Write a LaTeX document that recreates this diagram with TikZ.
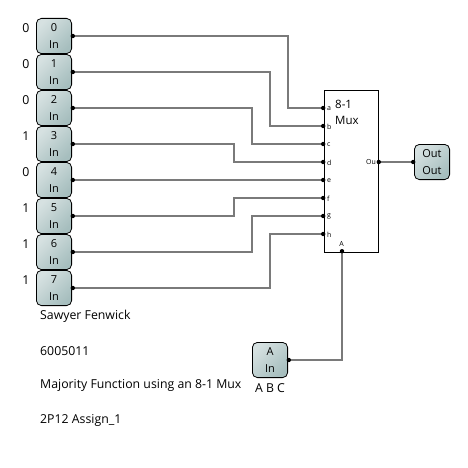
\documentclass[tikz,border=0pt]{standalone}
\usepackage{fontspec}
\setmainfont{Open Sans}
\begin{document}
\begin{tikzpicture}[x=1pt,y=-1pt,
  pin/.style={draw=black,line width=0.8pt,rounded corners=5pt,minimum width=35.2pt,minimum height=35.2pt,inner sep=0pt,align=center,
    left color=pinA,right color=pinB,shading angle=45,font=\fontsize{11}{17}\selectfont},
  wire/.style={draw=wirecol,line width=1.2pt},
  dot/.style={circle,fill=black,inner sep=0pt,minimum size=4.4pt},
  lbl/.style={inner sep=0pt,font=\fontsize{12.3}{14}\selectfont,anchor=west},
  plbl/.style={inner sep=0pt,font=\fontsize{7}{8}\selectfont}]
\definecolor{pinA}{HTML}{D6E1E1}
\definecolor{pinB}{HTML}{A6BEBE}
\definecolor{wirecol}{HTML}{7A7A7A}
\useasboundingbox (0,0) rectangle (468,468);
% input pins
\foreach \n/\yy/\v in {0/36/0,1/72/0,2/108/0,3/144/1,4/180/0,5/216/1,6/252/1,7/288/1}{
  \node[pin] (i\n) at (54,\yy) {\n\\In};
  \coordinate (p\n) at (72,\yy);
  \node[lbl,anchor=center] (v\n) at (26,\yy-8) {\v};
}
\node[pin] (abc) at (270,360) {A\\In};
\coordinate (pabc) at (288,360);
\node[pin] (out) at (432,162) {Out\\Out};
\coordinate (pouti) at (414,162);
% mux
\node[draw=black,line width=0.8pt,fill=white,minimum width=54pt,minimum height=162pt,inner sep=0pt] (mux) at (351,171) {};
\node[inner sep=0pt,align=left,anchor=north west,font=\fontsize{11.5}{16}\selectfont] (muxt) at (335,99.5) {8-1\\Mux};
\foreach \n/\yy in {a/108,b/126,c/144,d/162,e/180,f/198,g/216,h/234}{
  \coordinate (m\n) at (324,\yy);
  \node[plbl,anchor=west] (l\n) at (327,\yy+0.5) {\n};
}
\coordinate (mou) at (378,162);
\coordinate (mA) at (342,252);
\node[plbl,anchor=east] (lou) at (376,161.5) {Ou};
\node[plbl] (lA) at (341.5,244) {A};
% wires
\draw[wire] (p0) -| (288,108) -- (ma);
\draw[wire] (p1) -| (270,126) -- (mb);
\draw[wire] (p2) -| (252,144) -- (mc);
\draw[wire] (p3) -| (234,162) -- (md);
\draw[wire] (p4) -- (me);
\draw[wire] (p5) -| (234,198) -- (mf);
\draw[wire] (p6) -| (252,216) -- (mg);
\draw[wire] (p7) -| (270,234) -- (mh);
\draw[wire] (pabc) -| (mA);
\draw[wire] (mou) -- (pouti);
% port dots, sitting just outside their boxes
\foreach \c in {p0,p1,p2,p3,p4,p5,p6,p7,pabc,mou}{
  \node[dot,xshift=0.8pt] at (\c) {};
}
\foreach \c in {ma,mb,mc,md,me,mf,mg,mh,pouti}{
  \node[dot,xshift=-0.8pt] at (\c) {};
}
\node[dot,yshift=0.8pt] at (mA) {};
% texts
\node[lbl] (t1) at (40,316) {Sawyer Fenwick};
\node[lbl] (t2) at (40,351) {6005011};
\node[lbl] (t3) at (40,385) {Majority Function using an 8-1 Mux};
\node[lbl] (t4) at (40,420) {2P12 Assign\_1};
\node[lbl,anchor=center] (t5) at (270,388) {A B C};
\end{tikzpicture}
\end{document}
